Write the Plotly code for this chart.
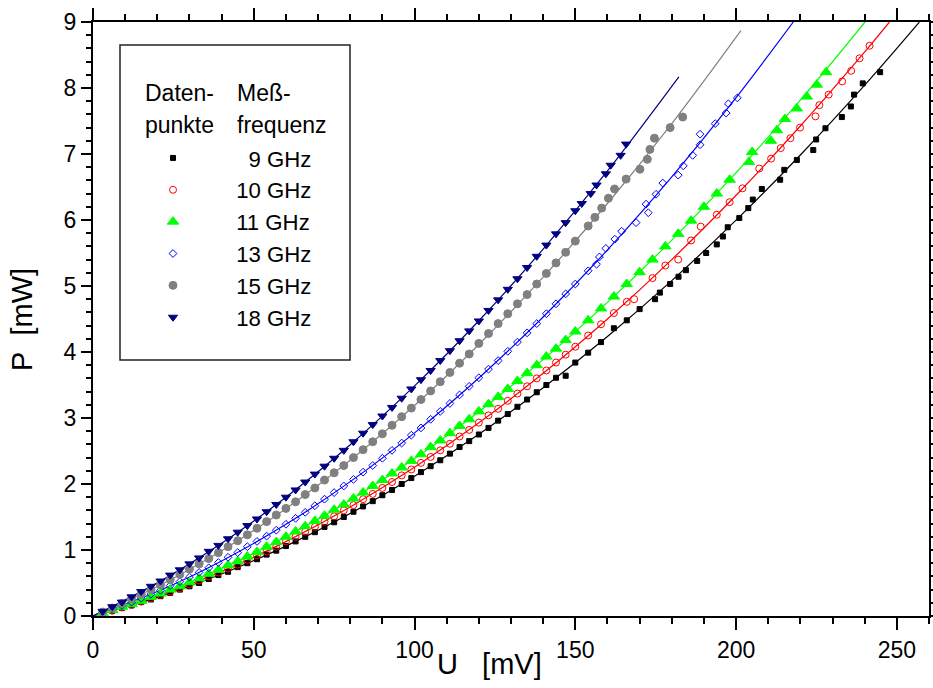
import plotly.graph_objects as go

# ---------------- data ----------------
# 9 GHz
u9 = [3, 6, 9, 12, 15, 18, 21, 24, 27, 30, 33, 36, 39, 42, 45, 48, 51, 54, 57, 60,
      63, 66, 69, 72, 75, 78, 81, 84, 87, 90, 93, 96, 99, 102, 105, 108, 111, 114, 117, 120,
      123, 126, 129, 132, 135, 138, 141, 144, 147, 150, 154, 158, 162, 166, 170,
      174.8, 176.3, 179.5, 182.1, 184.4, 187.9, 190.7, 194.0, 195.9, 197.4,
      201.0, 203.8, 205.2, 208.0, 213.7, 215.0, 218.9, 224.0, 224.9, 227.8,
      232.9, 235.7, 236.7, 239.4, 244.8]
p9 = [0.04, 0.08, 0.12, 0.16, 0.21, 0.25, 0.30, 0.35, 0.40, 0.45, 0.50, 0.56, 0.62, 0.67, 0.74, 0.80, 0.86, 0.93, 0.99, 1.06,
      1.13, 1.20, 1.27, 1.35, 1.42, 1.50, 1.58, 1.66, 1.74, 1.83, 1.91, 2.00, 2.09, 2.18, 2.27, 2.36, 2.46, 2.56, 2.65, 2.75,
      2.85, 2.96, 3.06, 3.17, 3.28, 3.39, 3.50, 3.61, 3.64, 3.84, 3.99, 4.15, 4.36, 4.48, 4.65,
      4.80, 4.90, 5.03, 5.14, 5.24, 5.38, 5.50, 5.63, 5.75, 5.89,
      6.03, 6.18, 6.31, 6.47, 6.61, 6.76, 6.91, 7.06, 7.22, 7.39,
      7.56, 7.72, 7.90, 8.07, 8.24]
fit_u9 = [0, 20, 40, 60, 80, 100, 120, 140, 160, 180, 200, 220, 240, 257]
fit_p9 = [0, 0.283, 0.636, 1.059, 1.553, 2.118, 2.753, 3.459, 4.235, 5.081, 5.998, 6.985, 8.043, 8.998]

# 10 GHz
u10 = [3, 6, 9, 12, 15, 18, 21, 24, 27, 30, 33, 36, 39, 42, 45, 48, 51, 54, 57, 60,
       63, 66, 69, 72, 75, 78, 81, 84, 87, 90, 93, 96, 99, 102, 105, 108, 111, 114, 117, 120,
       123, 126, 129, 132, 135, 138, 141, 144, 147, 150,
       154, 158, 162, 166, 168.3, 174, 178, 182, 186, 189, 194, 198, 202,
       207.2, 210.9, 213.9, 216.9, 219.9, 224.7, 225.9, 228.8, 233.0, 235.8, 238.4, 241.5]
p10 = [0.04, 0.08, 0.13, 0.17, 0.22, 0.27, 0.32, 0.37, 0.42, 0.48, 0.54, 0.60, 0.66, 0.72, 0.78, 0.85, 0.92, 0.98, 1.05, 1.13,
       1.20, 1.28, 1.35, 1.43, 1.51, 1.60, 1.68, 1.77, 1.85, 1.94, 2.03, 2.13, 2.22, 2.32, 2.41, 2.51, 2.61, 2.72, 2.82, 2.93,
       3.04, 3.14, 3.26, 3.37, 3.48, 3.60, 3.72, 3.84, 3.96, 4.08,
       4.25, 4.42, 4.59, 4.76, 4.80, 5.12, 5.31, 5.40, 5.69, 5.90, 6.08, 6.27, 6.48,
       6.78, 6.93, 7.09, 7.24, 7.40, 7.57, 7.74, 7.90, 8.10, 8.26, 8.45, 8.64]
fit_u10 = [0, 20, 40, 60, 80, 100, 120, 140, 160, 180, 200, 220, 240, 247.7]
fit_p10 = [0, 0.301, 0.676, 1.127, 1.652, 2.252, 2.927, 3.677, 4.501, 5.400, 6.375, 7.424, 8.547, 9.0]

# 11 GHz
u11 = [3, 6, 9, 12, 15, 18, 21, 24, 27, 30, 33, 36, 39, 42, 45, 48, 51, 54, 57, 60,
       63, 66, 69, 72, 75, 78, 81, 84, 87, 90, 93, 96, 99, 102, 105, 108, 111, 114, 117, 120,
       123, 126, 129, 132, 135, 138, 141, 144, 147, 150,
       154, 158, 162, 166, 170, 174, 178, 182, 186, 190, 194, 198,
       204.0, 205.0, 210.8, 212.7, 215.2, 218.9, 222.0, 225.1, 228.0]
p11 = [0.04, 0.09, 0.14, 0.18, 0.23, 0.29, 0.34, 0.40, 0.45, 0.51, 0.57, 0.64, 0.70, 0.77, 0.83, 0.90, 0.97, 1.05, 1.12, 1.20,
       1.28, 1.36, 1.44, 1.52, 1.61, 1.69, 1.78, 1.87, 1.97, 2.06, 2.16, 2.25, 2.35, 2.45, 2.56, 2.66, 2.77, 2.88, 2.98, 3.10,
       3.21, 3.32, 3.44, 3.56, 3.68, 3.80, 3.93, 4.05, 4.18, 4.31,
       4.48, 4.66, 4.84, 5.03, 5.21, 5.40, 5.60, 5.79, 5.99, 6.20, 6.40, 6.61,
       6.88, 7.03, 7.20, 7.36, 7.53, 7.69, 7.87, 8.05, 8.24]
fit_u11 = [0, 20, 40, 60, 80, 100, 120, 140, 160, 180, 200, 220, 240.1]
fit_p11 = [0, 0.321, 0.721, 1.198, 1.753, 2.385, 3.096, 3.884, 4.751, 5.695, 6.717, 7.816, 9.0]

# 13 GHz
u13 = [3, 6, 9, 12, 15, 18, 21, 24, 27, 30, 33, 36, 39, 42, 45, 48, 51, 54, 57, 60,
       63, 66, 69, 72, 75, 78, 81, 84, 87, 90, 93, 96, 99, 102, 105, 108, 111, 114, 117, 120,
       123, 126, 129, 132, 135, 138, 141, 144, 147, 150, 154,
       156.6, 157.5, 159.5, 162.3, 164.4, 168.9, 172.7, 172.0, 175.1, 177.2,
       182.0, 183.6, 186.5, 188.8, 188.8, 193.5, 196.9, 197.6, 200.4]
p13 = [0.05, 0.10, 0.16, 0.21, 0.27, 0.33, 0.39, 0.46, 0.52, 0.59, 0.66, 0.73, 0.81, 0.89, 0.96, 1.05, 1.13, 1.21, 1.30, 1.39,
       1.48, 1.57, 1.67, 1.77, 1.87, 1.97, 2.07, 2.18, 2.28, 2.39, 2.51, 2.62, 2.74, 2.85, 2.98, 3.10, 3.22, 3.35, 3.48, 3.61,
       3.74, 3.87, 4.01, 4.15, 4.29, 4.43, 4.58, 4.73, 4.88, 5.03, 5.23,
       5.33, 5.44, 5.57, 5.71, 5.83, 5.96, 6.11, 6.24, 6.39, 6.56,
       6.68, 6.82, 6.98, 7.14, 7.30, 7.46, 7.62, 7.76, 7.85]
fit_u13 = [0, 20, 40, 60, 80, 100, 120, 140, 160, 180, 200, 217.8]
fit_p13 = [0, 0.371, 0.834, 1.389, 2.036, 2.775, 3.607, 4.531, 5.546, 6.654, 7.854, 9.0]

# 15 GHz
u15 = [3, 6, 9, 12, 15, 18, 21, 24, 27, 30, 33, 36, 39, 42, 45, 48, 51, 54, 57, 60,
       63, 66, 69, 72, 75, 78, 81, 84, 87, 90, 93, 96, 99, 102, 105, 108, 111, 114, 117, 120,
       123, 126, 129, 132, 135, 138, 141, 144, 147, 150, 154,
       156.1, 158.2, 160.3, 162.2, 165.8, 170.1, 172.4, 173.2, 174.6, 179.5, 183.4]
p15 = [0.06, 0.12, 0.19, 0.26, 0.33, 0.40, 0.47, 0.55, 0.63, 0.71, 0.79, 0.87, 0.96, 1.05, 1.14, 1.23, 1.33, 1.43, 1.53, 1.63,
       1.73, 1.84, 1.94, 2.06, 2.17, 2.28, 2.40, 2.52, 2.64, 2.76, 2.89, 3.02, 3.15, 3.28, 3.41, 3.55, 3.69, 3.83, 3.97, 4.13,
       4.28, 4.43, 4.58, 4.73, 4.87, 5.03, 5.19, 5.35, 5.51, 5.68, 5.91,
       6.04, 6.18, 6.33, 6.47, 6.62, 6.77, 6.92, 7.07, 7.24, 7.40, 7.56]
fit_u15 = [0, 20, 40, 60, 80, 100, 120, 140, 160, 180, 201.5]
fit_p15 = [0, 0.446, 0.989, 1.626, 2.360, 3.189, 4.113, 5.134, 6.250, 7.461, 8.870]

# 18 GHz
u18 = [3, 6, 9, 12, 15, 18, 21, 24, 27, 30, 33, 36, 39, 42, 45, 48, 51, 54, 57, 60,
       63, 66, 69, 72, 75, 78, 81, 84, 87, 90, 93, 96, 99, 102, 105, 108, 111, 114, 117, 120,
       123, 126, 129, 132, 135, 138, 141, 144, 147, 150,
       152.0, 154.8, 156.6, 159.5, 161.0, 164.1, 165.8]
p18 = [0.07, 0.14, 0.21, 0.29, 0.37, 0.45, 0.53, 0.62, 0.70, 0.79, 0.88, 0.98, 1.07, 1.17, 1.27, 1.37, 1.47, 1.58, 1.69, 1.80,
       1.91, 2.03, 2.15, 2.27, 2.39, 2.51, 2.64, 2.77, 2.90, 3.03, 3.16, 3.30, 3.44, 3.58, 3.72, 3.87, 4.02, 4.17, 4.32, 4.47,
       4.63, 4.79, 4.95, 5.11, 5.28, 5.45, 5.62, 5.79, 5.96, 6.14,
       6.25, 6.40, 6.53, 6.70, 6.83, 6.98, 7.15]
fit_u18 = [0, 20, 40, 60, 80, 100, 120, 140, 160, 182.2]
fit_p18 = [0, 0.503, 1.103, 1.800, 2.594, 3.486, 4.474, 5.560, 6.743, 8.170]

labels = ["9 GHz", "10 GHz", "11 GHz", "13 GHz", "15 GHz", "18 GHz"]
x_ticks = [0, 50, 100, 150, 200, 250]
y_ticks = [0, 1, 2, 3, 4, 5, 6, 7, 8, 9]

# ---------------- styles ----------------
NB = "\u00a0"
styles = [
    dict(color="#000000", symbol="square", size=5),
    dict(color="#ff0000", symbol="circle-open", size=7),
    dict(color="#00ff00", symbol="triangle-up", size=10),
    dict(color="#0000ff", symbol="diamond-open", size=6),
    dict(color="#808080", symbol="circle", size=8),
    dict(color="#000080", symbol="triangle-down", size=8),
]
pads = [NB * 9, NB * 7, NB * 7, NB * 7, NB * 7, NB * 7]

data_u = [u9, u10, u11, u13, u15, u18]
data_p = [p9, p10, p11, p13, p15, p18]
fits_u = [fit_u9, fit_u10, fit_u11, fit_u13, fit_u15, fit_u18]
fits_p = [fit_p9, fit_p10, fit_p11, fit_p13, fit_p15, fit_p18]

FONT = "Arial, 'Liberation Sans', Helvetica, sans-serif"

fig = go.Figure()
for fu, fp, st in zip(fits_u, fits_p, styles):
    fig.add_trace(go.Scatter(x=fu, y=fp, mode="lines", line=dict(color=st["color"], width=1.2, shape="spline"),
                             showlegend=False, hoverinfo="skip"))
for u, p, st, lab, pad in zip(data_u, data_p, styles, labels, pads):
    fig.add_trace(go.Scatter(x=u, y=p, mode="markers", name=pad + lab,
                             marker=dict(symbol=st["symbol"], size=st["size"], color=st["color"],
                                         line=dict(width=1, color=st["color"]))))

axis_common = dict(showgrid=False, zeroline=False, showline=True, linecolor="black", linewidth=2,
                   mirror="ticks", ticks="outside", tickwidth=2, tickcolor="black", automargin=False,
                   tickfont=dict(family=FONT, size=23, color="black"))

fig.update_xaxes(range=[0, 260], tickvals=x_ticks, ticklen=12,
                 minor=dict(dtick=10, tick0=0, ticks="outside", ticklen=6, tickwidth=2, tickcolor="black"),
                 **axis_common)
fig.update_yaxes(range=[0, 9], tickvals=y_ticks, ticklen=10,
                 minor=dict(dtick=0.2, tick0=0, ticks="outside", ticklen=5, tickwidth=2, tickcolor="black"),
                 **axis_common)

W, H = 933, 688
L, R, T, B = 93, 4, 22, 72
pw, ph = W - L - R, H - T - B


def px(xp):
    return (xp - L) / pw


def py(yp):
    return (H - B - yp) / ph


annotations = [
    dict(text="U" + NB * 3 + "[mV]", x=px(489), y=py(664), xref="paper", yref="paper", showarrow=False,
         xanchor="center", yanchor="middle", font=dict(family=FONT, size=29, color="black")),
    dict(text="P" + NB * 2 + "[mW]", x=px(22), y=py(320), xref="paper", yref="paper", showarrow=False,
         xanchor="center", yanchor="middle", textangle=-90, font=dict(family=FONT, size=29, color="black")),
    dict(text="Daten-", x=px(143), y=py(93), xref="paper", yref="paper", showarrow=False,
         xanchor="left", yanchor="middle", font=dict(family=FONT, size=23, color="black")),
    dict(text="punkte", x=px(143), y=py(125), xref="paper", yref="paper", showarrow=False,
         xanchor="left", yanchor="middle", font=dict(family=FONT, size=23, color="black")),
    dict(text="Meß-", x=px(235), y=py(93), xref="paper", yref="paper", showarrow=False,
         xanchor="left", yanchor="middle", font=dict(family=FONT, size=23, color="black")),
    dict(text="frequenz", x=px(235), y=py(125), xref="paper", yref="paper", showarrow=False,
         xanchor="left", yanchor="middle", font=dict(family=FONT, size=23, color="black")),
]

fig.update_layout(
    width=W, height=H, margin=dict(l=L, r=R, t=T, b=B, pad=0, autoexpand=False),
    paper_bgcolor="white", plot_bgcolor="white",
    font=dict(family=FONT, size=23, color="black"),
    showlegend=True,
    legend=dict(x=px(153), y=py(137), xanchor="left", yanchor="top", bgcolor="rgba(0,0,0,0)",
                borderwidth=0, font=dict(family=FONT, size=22.2, color="black"), traceorder="normal",
                itemclick=False),
    annotations=annotations,
    shapes=[dict(type="rect", xref="paper", yref="paper", x0=px(120), x1=px(350), y0=py(360), y1=py(45),
                 line=dict(color="#222222", width=1.5), fillcolor="rgba(0,0,0,0)", layer="above")],
)

fig.write_html("out.html")
